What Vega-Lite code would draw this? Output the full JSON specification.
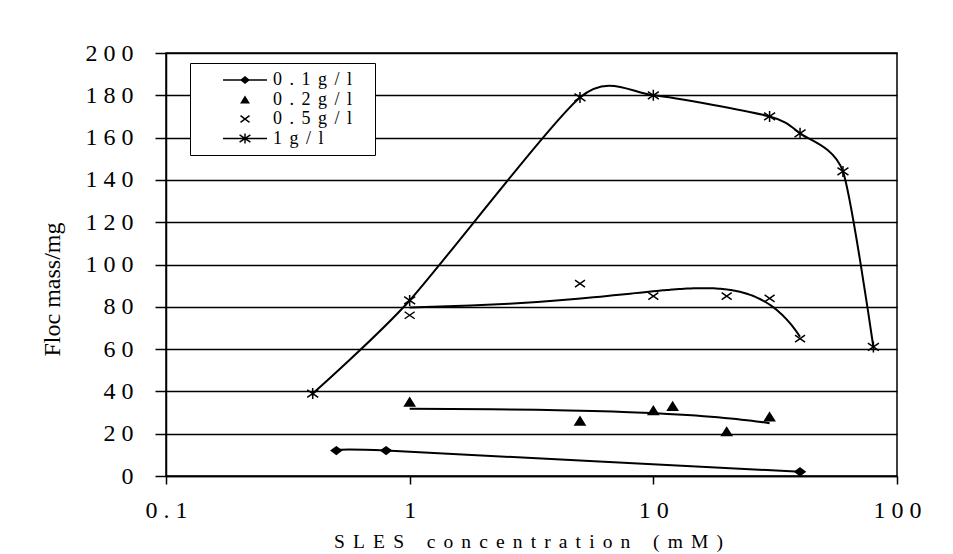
{
  "$schema": "https://vega.github.io/schema/vega-lite/v6.json",
  "width": 731,
  "height": 423,
  "autosize": "none",
  "padding": {"left": 166, "top": 53, "right": 56, "bottom": 78},
  "background": "white",
  "config": {
    "font": "Liberation Serif",
    "view": {"stroke": "black", "strokeWidth": 1.5}
  },
  "data": {
    "values": [
      {"series": "0.1g/l", "x": 0.5, "y": 12},
      {"series": "0.1g/l", "x": 0.8, "y": 12},
      {"series": "0.1g/l", "x": 40, "y": 2},
      {"series": "0.2g/l", "x": 1, "y": 35},
      {"series": "0.2g/l", "x": 5, "y": 26},
      {"series": "0.2g/l", "x": 10, "y": 31},
      {"series": "0.2g/l", "x": 12, "y": 33},
      {"series": "0.2g/l", "x": 20, "y": 21},
      {"series": "0.2g/l", "x": 30, "y": 28},
      {"series": "0.5g/l", "x": 1, "y": 76},
      {"series": "0.5g/l", "x": 5, "y": 91},
      {"series": "0.5g/l", "x": 10, "y": 85},
      {"series": "0.5g/l", "x": 20, "y": 85},
      {"series": "0.5g/l", "x": 30, "y": 84},
      {"series": "0.5g/l", "x": 40, "y": 65},
      {"series": "1g/l", "x": 0.4, "y": 39},
      {"series": "1g/l", "x": 1, "y": 83},
      {"series": "1g/l", "x": 5, "y": 179},
      {"series": "1g/l", "x": 10, "y": 180},
      {"series": "1g/l", "x": 30, "y": 170},
      {"series": "1g/l", "x": 40, "y": 162},
      {"series": "1g/l", "x": 60, "y": 144},
      {"series": "1g/l", "x": 80, "y": 61}
    ]
  },
  "encoding": {
    "x": {
      "field": "x",
      "type": "quantitative",
      "scale": {"type": "log", "domain": [0.1, 100]},
      "axis": {
        "title": "S\u2005\u2006L\u2005\u2006E\u2005\u2006S\u2003\u2006c\u2005\u2006o\u2005\u2006n\u2005\u2006c\u2005\u2006e\u2005\u2006n\u2005\u2006t\u2005\u2006r\u2005\u2006a\u2005\u2006t\u2005\u2006i\u2005\u2006o\u2005\u2006n\u2003\u2006(\u2005\u2006m\u2005\u2006M\u2005\u2006)",
        "values": [0.1, 1, 10, 100],
        "format": "~g",
        "labelExpr": "join(split(datum.label,''),'\u2005')",
        "grid": false,
        "domainColor": "black",
        "domainWidth": 1.5,
        "tickColor": "black",
        "tickWidth": 1.5,
        "tickSize": 8,
        "labelFontSize": 24,
        "labelColor": "black",
        "labelPadding": 26,
        "labelBaseline": "middle",
        "labelFlush": false,
        "titleFontSize": 19.5,
        "titleFontWeight": "normal",
        "titleColor": "black",
        "titleX": 362,
        "titleY": 65,
        "titleBaseline": "middle",
        "titleAlign": "center"
      }
    },
    "y": {
      "field": "y",
      "type": "quantitative",
      "scale": {"domain": [0, 200], "nice": false},
      "axis": {
        "title": "Floc mass/mg",
        "values": [0, 20, 40, 60, 80, 100, 120, 140, 160, 180, 200],
        "labelExpr": "join(split(datum.label,''),'\u2005')",
        "grid": true,
        "gridColor": "black",
        "gridWidth": 1.5,
        "domainColor": "black",
        "domainWidth": 1.5,
        "tickColor": "black",
        "tickWidth": 1.5,
        "tickSize": 11,
        "labelFontSize": 24,
        "labelColor": "black",
        "labelPadding": 22,
        "labelFlush": false,
        "titleFontSize": 24,
        "titleFontWeight": "normal",
        "titleColor": "black",
        "titleX": -114,
        "titleY": 236,
        "titleAngle": -90,
        "titleAlign": "center",
        "titleBaseline": "middle"
      }
    }
  },
  "layer": [
    {
      "transform": [{"filter": "datum.series == '0.1g/l' || datum.series == '1g/l'"}],
      "mark": {"type": "line", "interpolate": "cardinal", "tension": 0.3, "color": "black", "strokeWidth": 2},
      "encoding": {"detail": {"field": "series", "type": "nominal"}}
    },
    {
      "transform": [
        {"filter": "datum.series == '0.2g/l'"},
        {"regression": "y", "on": "x", "method": "poly", "order": 1}
      ],
      "mark": {"type": "line", "color": "black", "strokeWidth": 2}
    },
    {
      "transform": [
        {"filter": "datum.series == '0.5g/l'"},
        {"regression": "y", "on": "x", "method": "poly", "order": 2}
      ],
      "mark": {"type": "line", "color": "black", "strokeWidth": 2}
    },
    {
      "mark": {"type": "point", "filled": true, "color": "black", "stroke": "black", "strokeWidth": 1.5, "opacity": 1, "size": 100},
      "encoding": {
        "shape": {
          "field": "series",
          "type": "nominal",
          "scale": {
            "domain": ["0.1g/l", "0.2g/l", "0.5g/l", "1g/l"],
            "range": [
              "M0,-0.75L1,0L0,0.75L-1,0Z",
              "M0,-0.8L1,0.8L-1,0.8Z",
              "M-1,-0.7L1,0.7M-1,0.7L1,-0.7",
              "M-1.1,-0.75L1.1,0.75M-1.1,0.75L1.1,-0.75M0,-1.1L0,1.1"
            ]
          },
          "legend": null
        }
      }
    },
    {
      "transform": [{"filter": "datum.x < 0"}],
      "mark": {"type": "point", "filled": true, "color": "black", "opacity": 1, "size": 324},
      "encoding": {
        "shape": {
          "field": "series",
          "type": "nominal",
          "scale": {
            "domain": ["0.1g/l", "0.2g/l", "0.5g/l", "1g/l"],
            "range": [
              "M-2.44,-0.09L-2.44,0.09L2.44,0.09L2.44,-0.09ZM0,-0.45L-0.55,0L0,0.45L0.55,0Z",
              "M0,-0.45L0.55,0.45L-0.55,0.45Z",
              "M-0.548,-0.316L0.452,0.444L0.548,0.316L-0.452,-0.444ZM-0.452,0.444L0.548,-0.316L0.452,-0.444L-0.548,0.316Z",
              "M-2.44,-0.09L-2.44,0.09L2.44,0.09L2.44,-0.09ZM-0.644,-0.333L0.556,0.467L0.644,0.333L-0.556,-0.467ZM-0.556,0.467L0.644,-0.333L0.556,-0.467L-0.644,0.333ZM-0.08,-0.55L-0.08,0.55L0.08,0.55L0.08,-0.55Z"
            ]
          },
          "legend": {
            "title": "\u00a0",
            "titleOrient": "right",
            "titlePadding": 16,
            "titleFontSize": 18,
            "orient": "none",
            "legendX": 24,
            "legendY": 10,
            "padding": 7,
            "fillColor": "white",
            "strokeColor": "black",
            "symbolSize": 324,
            "symbolOffset": 38,
            "symbolOpacity": 1,
            "symbolFillColor": "black",
            "labelOffset": 18,
            "labelFontSize": 18,
            "labelFont": "Liberation Serif",
            "labelColor": "black",
            "labelLimit": 300,
            "rowPadding": 0.5,
            "labelExpr": "join(split(datum.label,''),'\u2005\u2006')"
          }
        }
      }
    }
  ],
  "resolve": {"scale": {"shape": "independent"}, "legend": {"shape": "independent"}}
}
